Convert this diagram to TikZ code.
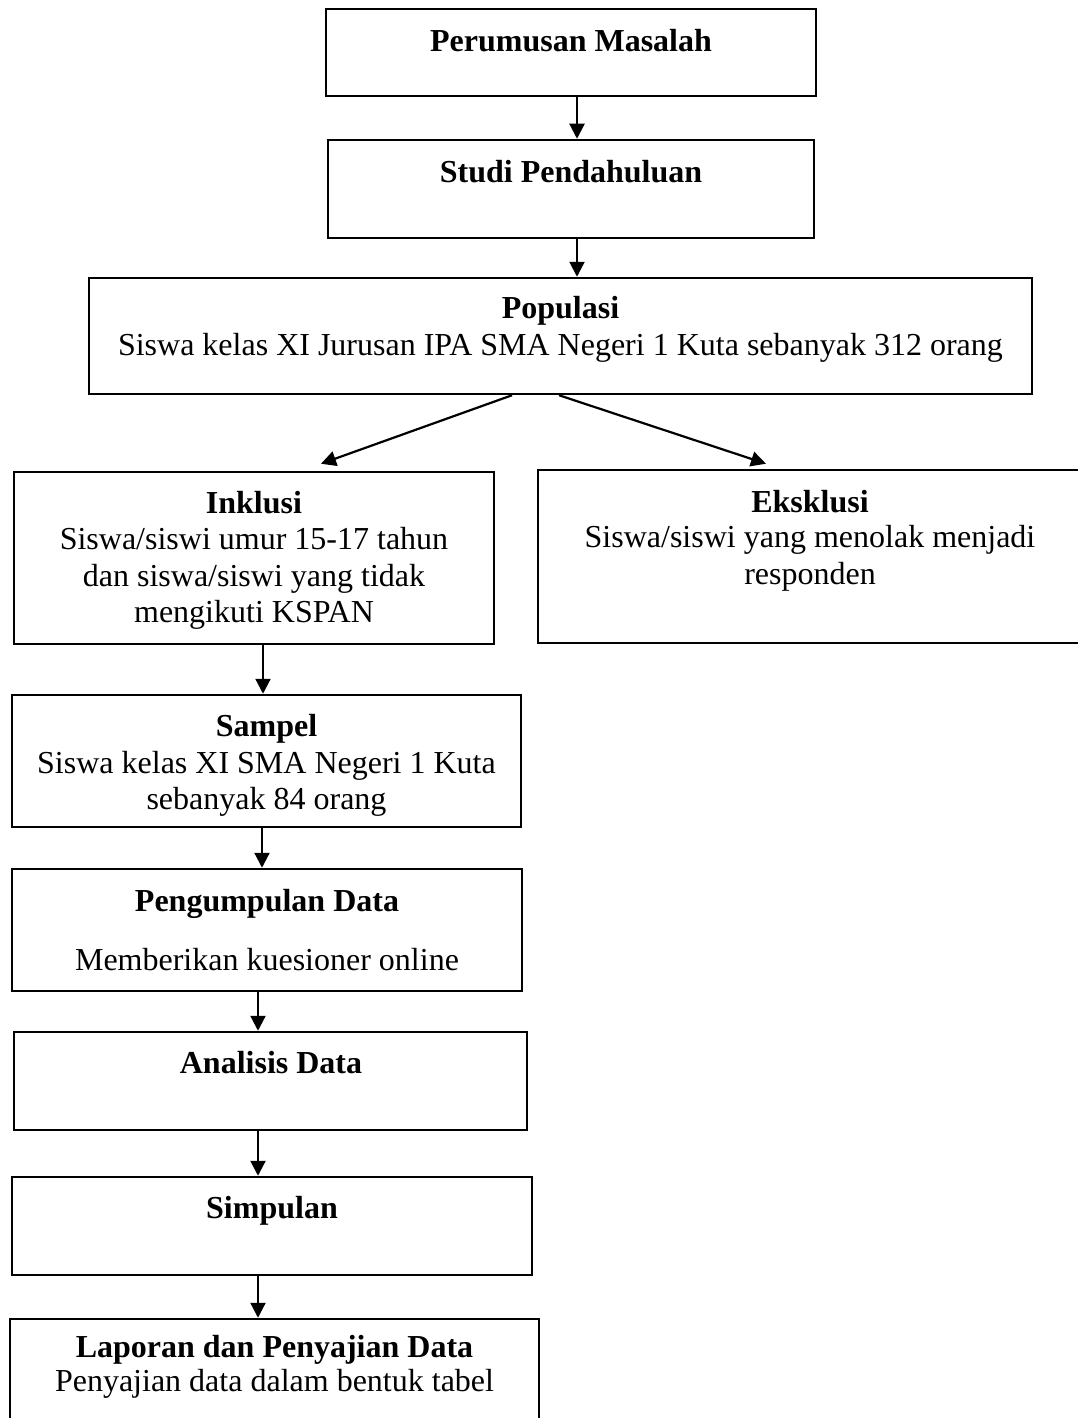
\documentclass[tikz,border=0pt]{standalone}
\usepackage{fontspec}
\setmainfont{Liberation Serif}
\usetikzlibrary{arrows.meta}
\begin{document}
\begin{tikzpicture}[x=1pt,y=-1pt,
  box/.style={draw=black, line width=2.5pt, rectangle, inner sep=0pt},
  txt/.style={anchor=base, inner sep=0pt, font=\fontsize{32}{36.5}\selectfont},
  ttl/.style={anchor=base, inner sep=0pt, font=\fontsize{32}{36.5}\selectfont\bfseries},
  arr/.style={line width=2.2pt, -{Triangle[length=15pt,width=15pt]}}]
\useasboundingbox (0,0) rectangle (1078,1418);
\clip (0,0) rectangle (1078,1418);

% boxes
\node[box, minimum width=490pt, minimum height=87pt]  (b1)  at (571,52.5) {};
\node[box, minimum width=486pt, minimum height=98pt]  (b2)  at (571,189) {};
\node[box, minimum width=943pt, minimum height=116pt] (b3)  at (560.5,336) {};
\node[box, minimum width=480pt, minimum height=172pt] (b4)  at (254,558) {};
\node[box, minimum width=544pt, minimum height=173pt] (b5)  at (810,556.5) {};
\node[box, minimum width=509pt, minimum height=132pt] (b6)  at (266.5,761) {};
\node[box, minimum width=510pt, minimum height=122pt] (b7)  at (267,930) {};
\node[box, minimum width=513pt, minimum height=98pt]  (b8)  at (270.5,1081) {};
\node[box, minimum width=520pt, minimum height=98pt]  (b9)  at (272,1226) {};
\node[box, minimum width=529pt, minimum height=120pt] (b10) at (274.5,1379) {};

% texts
\node[ttl] (t1) at (571,52) {Perumusan Masalah};
\node[ttl] (t2) at (571,182) {Studi Pendahuluan};
\node[ttl] (t3) at (560.5,318) {Populasi};
\node[txt] (t3a) at (560.5,355) {Siswa kelas XI Jurusan IPA SMA Negeri 1 Kuta sebanyak 312 orang};
\node[ttl] (t4) at (254,513) {Inklusi};
\node[txt] (t4a) at (254,549) {Siswa/siswi umur 15-17 tahun};
\node[txt] (t4b) at (254,586) {dan siswa/siswi yang tidak};
\node[txt] (t4c) at (254,622) {mengikuti KSPAN};
\node[ttl] (t5) at (810,512) {Eksklusi};
\node[txt] (t5a) at (810,547) {Siswa/siswi yang menolak menjadi};
\node[txt] (t5b) at (810,584) {responden};
\node[ttl] (t6) at (266.5,736) {Sampel};
\node[txt] (t6a) at (266.5,773) {Siswa kelas XI SMA Negeri 1 Kuta};
\node[txt] (t6b) at (266.5,809) {sebanyak 84 orang};
\node[ttl] (t7) at (267,911) {Pengumpulan Data};
\node[txt] (t7a) at (267,970) {Memberikan kuesioner online};
\node[ttl] (t8) at (271,1073) {Analisis Data};
\node[ttl] (t9) at (272,1218) {Simpulan};
\node[ttl] (t10) at (274.5,1357) {Laporan dan Penyajian Data};
\node[txt] (t10a) at (274.5,1391) {Penyajian data dalam bentuk tabel};

% arrow columns
\coordinate (cA) at (577,0);
\coordinate (cB) at (263,0);
\coordinate (cC) at (262,0);
\coordinate (cD) at (258,0);

% connectors
\draw[arr] (b1.south -| cA) -- (b2.north -| cA);
\draw[arr] (b2.south -| cA) -- (b3.north -| cA);
\draw[arr] ([xshift=-48.5pt]b3.south) -- ([xshift=67pt,yshift=7pt]b4.north);
\draw[arr] ([xshift=-1.5pt]b3.south) -- ([xshift=-44pt,yshift=5pt]b5.north);
\draw[arr] (b4.south -| cB) -- (b6.north -| cB);
\draw[arr] (b6.south -| cC) -- (b7.north -| cC);
\draw[arr] (b7.south -| cD) -- (b8.north -| cD);
\draw[arr] (b8.south -| cD) -- (b9.north -| cD);
\draw[arr] (b9.south -| cD) -- (b10.north -| cD);
\end{tikzpicture}
\end{document}
